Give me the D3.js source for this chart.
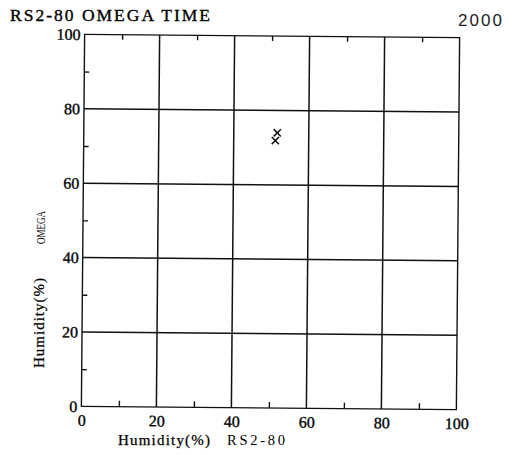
<!DOCTYPE html>
<html>
<head>
<meta charset="utf-8">
<script src="https://cdn.jsdelivr.net/npm/d3@7"></script>
<style>
  html, body { margin: 0; padding: 0; background: #fff; }
  svg { display: block; }
</style>
</head>
<body>
<script>
// Readings: humidity from the reference sensor (x) against OMEGA (y)
const refHumidity = [51.6, 51.1];
const omegaHumidity = [74.0, 71.9];

const majorTicks = [0, 20, 40, 60, 80, 100];
const minorTicks = [10, 30, 50, 70, 90];

const titleText = "RS2-80 OMEGA TIME";
const yearText = "2000";
const xLabelMain = "Humidity(%)";
const xLabelSensor = "RS2-80";
const yLabelMain = "Humidity(%)";
const yLabelSensor = "OMEGA";

const W = 513, H = 455;
const svg = d3.select("body").append("svg")
  .attr("width", W).attr("height", H)
  .style("background", "#fff");

// The printed sheet sits very slightly turned clockwise
const plot = svg.append("g").attr("transform", "rotate(0.5 270.4 222)");

const x = d3.scaleLinear().domain([0, 100]).range([83, 458]);
const y = d3.scaleLinear().domain([0, 100]).range([408, 36]);

const ink = "#111";
const serif = "'Liberation Serif', 'Times New Roman', serif";

// Grid lines at every labelled value
plot.append("g").selectAll("line")
  .data(majorTicks.slice(1, -1)).join("line")
  .attr("x1", d => x(d)).attr("x2", d => x(d))
  .attr("y1", y(0)).attr("y2", y(100))
  .attr("stroke", ink).attr("stroke-width", 1.5);
plot.append("g").selectAll("line")
  .data(majorTicks.slice(1, -1)).join("line")
  .attr("x1", x(0)).attr("x2", x(100))
  .attr("y1", d => y(d)).attr("y2", d => y(d))
  .attr("stroke", ink).attr("stroke-width", 1.5);

// Frame
plot.append("rect")
  .attr("x", x(0)).attr("y", y(100))
  .attr("width", x(100) - x(0)).attr("height", y(0) - y(100))
  .attr("fill", "none").attr("stroke", ink).attr("stroke-width", 1.4);

function styleAxis(g) {
  g.select(".domain").remove();
  g.selectAll(".tick line").attr("stroke", ink).attr("stroke-width", 1.4);
  g.selectAll(".tick text")
    .attr("fill", "#000")
    .attr("stroke", "#000").attr("stroke-width", 0.35)
    .style("font-family", serif)
    .style("font-size", "16px");
}

// Bottom axis: labels plus short inward minor ticks
plot.append("g").attr("transform", `translate(0,${y(0)})`)
  .call(d3.axisBottom(x).tickValues(majorTicks).tickSize(0).tickPadding(8).tickFormat(d3.format("d")))
  .call(styleAxis);
plot.append("g").attr("transform", `translate(0,${y(0)})`)
  .call(d3.axisBottom(x).tickValues(minorTicks).tickSize(-6).tickFormat(""))
  .call(styleAxis);

// Top edge minor ticks
plot.append("g").attr("transform", `translate(0,${y(100)})`)
  .call(d3.axisTop(x).tickValues(minorTicks).tickSize(-5).tickFormat(""))
  .call(styleAxis);

// Left axis: labels plus inward minor ticks
plot.append("g").attr("transform", `translate(${x(0)},0)`)
  .call(d3.axisLeft(y).tickValues(majorTicks).tickSize(0).tickPadding(4).tickFormat(d3.format("d")))
  .call(styleAxis);
plot.append("g").attr("transform", `translate(${x(0)},0)`)
  .call(d3.axisLeft(y).tickValues(minorTicks).tickSize(-5).tickFormat(""))
  .call(styleAxis);

// Data points drawn as crosses
const pts = refHumidity.map((v, i) => ({ h: v, o: omegaHumidity[i] }));
const r = 3.6;
const marks = plot.append("g").selectAll("g").data(pts).join("g")
  .attr("transform", d => `translate(${x(d.h)},${y(d.o)})`);
marks.append("line").attr("x1", -r).attr("y1", -r).attr("x2", r).attr("y2", r)
  .attr("stroke", ink).attr("stroke-width", 1.5);
marks.append("line").attr("x1", -r).attr("y1", r).attr("x2", r).attr("y2", -r)
  .attr("stroke", ink).attr("stroke-width", 1.5);

// Title and year
svg.append("text")
  .attr("x", 10).attr("y", 20.5)
  .attr("textLength", 200).attr("lengthAdjust", "spacing")
  .style("font-family", serif).style("font-size", "17.5px")
  .attr("fill", "#000").attr("stroke", "#000").attr("stroke-width", 0.35)
  .text(titleText);
svg.append("text")
  .attr("x", 458).attr("y", 25.5)
  .attr("textLength", 44).attr("lengthAdjust", "spacing")
  .style("font-family", "'Liberation Sans', Arial, sans-serif").style("font-size", "17px")
  .attr("fill", "#222")
  .text(yearText);

// Axis titles
svg.append("text")
  .attr("x", 118).attr("y", 445)
  .attr("textLength", 92).attr("lengthAdjust", "spacing")
  .style("font-family", serif).style("font-size", "15px")
  .attr("fill", "#000").attr("stroke", "#000").attr("stroke-width", 0.25)
  .text(xLabelMain);
svg.append("text")
  .attr("x", 227).attr("y", 445)
  .attr("textLength", 58).attr("lengthAdjust", "spacing")
  .style("font-family", serif).style("font-size", "14.5px")
  .attr("fill", "#000")
  .text(xLabelSensor);

svg.append("text")
  .attr("transform", "translate(44,368) rotate(-90)")
  .attr("textLength", 90).attr("lengthAdjust", "spacing")
  .style("font-family", serif).style("font-size", "15px")
  .attr("fill", "#000").attr("stroke", "#000").attr("stroke-width", 0.25)
  .text(yLabelMain);
svg.append("text")
  .attr("transform", "translate(44.5,244) rotate(-90)")
  .attr("textLength", 33).attr("lengthAdjust", "spacingAndGlyphs")
  .style("font-family", serif).style("font-size", "13px")
  .attr("fill", "#000")
  .text(yLabelSensor);
</script>
</body>
</html>
